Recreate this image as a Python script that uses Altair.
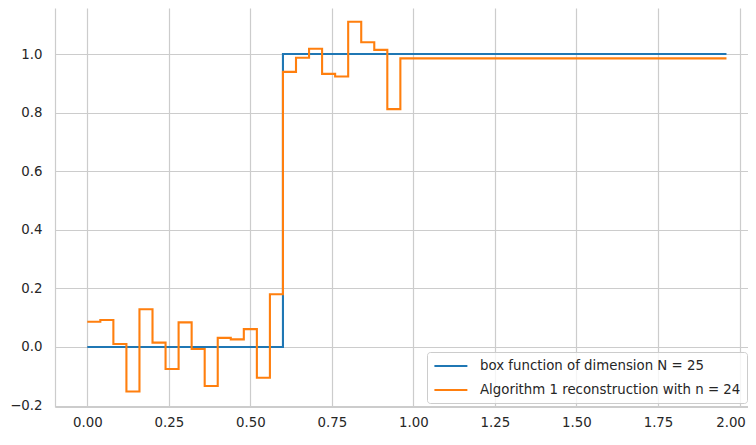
import altair as alt
import pandas as pd

# Box function (steps-post)
box_x = [0.0, 0.6, 1.96]
box_y = [0.0, 1.0, 1.0]

# Algorithm 1 reconstruction (steps-post), step width 0.04
rec_x = [0.00, 0.04, 0.08, 0.12, 0.16, 0.20, 0.24, 0.28, 0.32, 0.36,
         0.40, 0.44, 0.48, 0.52, 0.56, 0.60, 0.64, 0.68, 0.72, 0.76,
         0.80, 0.84, 0.88, 0.92, 0.96, 1.96]
rec_y = [0.086, 0.092, 0.010, -0.152, 0.129, 0.015, -0.075, 0.084, -0.007, -0.133,
         0.031, 0.026, 0.061, -0.105, 0.180, 0.939, 0.987, 1.018, 0.932, 0.923,
         1.110, 1.040, 1.014, 0.812, 0.985, 0.985]

series_names = ["box function of dimension N = 25",
                "Algorithm 1 reconstruction with n = 24"]
series_colors = ["#1f77b4", "#ff7f0e"]

x_ticks = [0.0, 0.25, 0.5, 0.75, 1.0, 1.25, 1.5, 1.75, 2.0]
y_ticks = [-0.2, 0.0, 0.2, 0.4, 0.6, 0.8, 1.0]

box_df = pd.DataFrame({"x": box_x, "y": box_y, "series": series_names[0]})
rec_df = pd.DataFrame({"x": rec_x, "y": rec_y, "series": series_names[1]})

FONT = "DejaVu Sans"
TXT = "#262626"
GRID = "#cccccc"

xenc = alt.X("x:Q", scale=alt.Scale(domain=[-0.099, 2.026], nice=False, zero=False),
             axis=alt.Axis(values=x_ticks, format=".2f", title=None,
                           labelOffset={"condition": {"test": "datum.value >= 2", "value": -9},
                                        "value": 0}))
yenc = alt.Y("y:Q", scale=alt.Scale(domain=[-0.2048, 1.157], nice=False, zero=False),
             axis=alt.Axis(values=y_ticks, format=".1f", title=None))
cenc = alt.Color("series:N",
                 scale=alt.Scale(domain=series_names, range=series_colors),
                 legend=alt.Legend(title=None, orient="none", legendX=372, legendY=344,
                                   symbolType="M-1,0H4", symbolSize=174,
                                   symbolStrokeWidth=2.1,
                                   symbolFillColor="transparent",
                                   labelFont=FONT,
                                   labelFontSize=13.33, labelColor=TXT,
                                   labelOffset=31, rowPadding=9, padding=6,
                                   fillColor="rgba(255,255,255,0.8)",
                                   strokeColor=GRID, cornerRadius=3,
                                   labelLimit=400))

box = alt.Chart(box_df).mark_line(interpolate="step-after", strokeWidth=2.1).encode(
    x=xenc, y=yenc, color=cenc)
rec = alt.Chart(rec_df).mark_line(interpolate="step-after", strokeWidth=2.1).encode(
    x=xenc, y=yenc, color=cenc)

chart = alt.layer(box, rec).properties(
    width=693, height=399,
    autosize=alt.AutoSizeParams(type="none"),
    padding={"left": 47, "top": 0, "right": 0, "bottom": 22},
    background="white",
).configure_view(
    strokeWidth=0
).configure_axis(
    labelFont=FONT, labelFontSize=13.33, labelColor=TXT,
    ticks=False, tickSize=0,
    domain=True, domainColor=GRID, domainWidth=1.2,
    grid=True, gridColor=GRID, gridWidth=1.2,
).configure_axisX(
    labelPadding=8
).configure_axisY(
    labelPadding=13
)

chart.save("out.html", embed_options={"renderer": "svg", "actions": False})
